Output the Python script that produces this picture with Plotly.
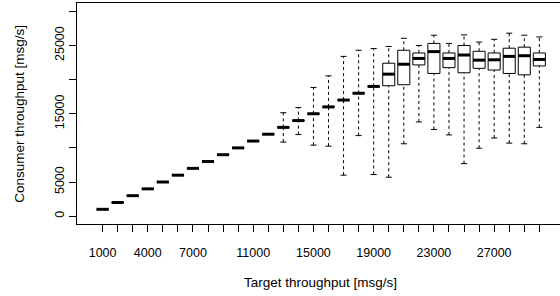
import plotly.graph_objects as go

# ---- data ----
targets = [1000, 2000, 3000, 4000, 5000, 6000, 7000, 8000, 9000, 10000,
           11000, 12000, 13000, 14000, 15000, 16000, 17000, 18000, 19000, 20000,
           21000, 22000, 23000, 24000, 25000, 26000, 27000, 28000, 29000, 30000]
medians = [1000, 2000, 3000, 4000, 5000, 6000, 7000, 8000, 9000, 10000,
           11000, 12000, 13000, 14000, 15000, 16000, 17000, 18000, 19000, 20800,
           22250, 23100, 24100, 23100, 23600, 22850, 22900, 23400, 23500, 22950]
q1 = [1000, 2000, 3000, 4000, 5000, 6000, 7000, 8000, 9000, 10000,
      11000, 12000, 13000, 14000, 15000, 16000, 17000, 18000, 19000, 19100,
      19250, 22150, 20900, 21750, 21000, 21650, 21400, 20900, 20700, 22000]
q3 = [1000, 2000, 3000, 4000, 5000, 6000, 7000, 8000, 9000, 10000,
      11000, 12000, 13000, 14000, 15000, 16000, 17000, 18000, 19000, 22400,
      24300, 23900, 25300, 23900, 25000, 24150, 23900, 24600, 24750, 23900]
upper = [1000, 2000, 3000, 4000, 5000, 6000, 7000, 8000, 9000, 10000,
         11000, 12000, 15150, 15900, 18850, 20550, 23400, 24300, 24550, 24850,
         26050, 25000, 26500, 25300, 26550, 25500, 25900, 26800, 26500, 26250]
lower = [1000, 2000, 3000, 4000, 5000, 6000, 7000, 8000, 9000, 10000,
         11000, 12000, 10850, 11950, 10400, 10250, 6000, 11800, 6100, 5700,
         10600, 13800, 12700, 11900, 7700, 9950, 11450, 10700, 10600, 13000]

x_shown_labels = [1000, 4000, 7000, 11000, 15000, 19000, 23000, 27000]
y_tick_values = [0, 5000, 10000, 15000, 20000, 25000, 30000]
y_shown_labels = [0, 5000, 15000, 25000]

# ---- geometry (in data units) ----
step = 1000
half_box = 0.4 * step
half_staple = 0.2 * step

wx, wy, sx, sy, bx, by, mx, my = [], [], [], [], [], [], [], []
for t, m, a, b, lo, hi in zip(targets, medians, q1, q3, lower, upper):
    if hi > b:
        wx += [t, t, None]; wy += [b, hi, None]
    if lo < a:
        wx += [t, t, None]; wy += [lo, a, None]
    sx += [t - half_staple, t + half_staple, None, t - half_staple, t + half_staple, None]
    sy += [hi, hi, None, lo, lo, None]
    bx += [t - half_box, t + half_box, t + half_box, t - half_box, t - half_box, None]
    by += [a, a, b, b, a, None]
    mx += [t - half_box, t + half_box, None]
    my += [m, m, None]

fig = go.Figure()
fig.add_trace(go.Scatter(x=wx, y=wy, mode="lines",
                         line=dict(color="black", width=1, dash="3px,3px"),
                         hoverinfo="skip"))
fig.add_trace(go.Scatter(x=sx, y=sy, mode="lines",
                         line=dict(color="black", width=1), hoverinfo="skip"))
fig.add_trace(go.Scatter(x=bx, y=by, mode="lines", fill="toself", fillcolor="white",
                         line=dict(color="black", width=1), hoverinfo="skip"))
fig.add_trace(go.Scatter(x=mx, y=my, mode="lines",
                         line=dict(color="black", width=3), hoverinfo="skip"))

font = dict(family="Liberation Sans, Arial, Helvetica, sans-serif", color="black", size=12.5)

fig.update_layout(
    width=560, height=296,
    margin=dict(l=77, r=0, t=3, b=72, pad=0),
    paper_bgcolor="white", plot_bgcolor="white",
    showlegend=False, font=font,
    xaxis=dict(range=[-700, 31372], tickmode="array", tickvals=targets,
               ticktext=[str(t) if t in x_shown_labels else "" for t in targets],
               ticks="outside", ticklen=7, tickcolor="black", tickwidth=1,
               showline=True, linecolor="black", linewidth=1, mirror=True,
               showgrid=False, zeroline=False, tickangle=0,
               ticklabelstandoff=10),
    yaxis=dict(range=[-1150, 31220], tickmode="array", tickvals=y_tick_values,
               ticktext=[str(v) if v in y_shown_labels else "" for v in y_tick_values],
               ticks="outside", ticklen=7, tickcolor="black", tickwidth=1,
               showline=True, linecolor="black", linewidth=1, mirror=False,
               showgrid=False, zeroline=False, tickangle=-90,
               ticklabelstandoff=0),
    annotations=[
        dict(text="Target throughput [msg/s]", xref="x", yref="paper",
             x=15500, y=0, xanchor="center", yanchor="middle", yshift=-58,
             showarrow=False, font=dict(size=13.5)),
        dict(text="Consumer throughput [msg/s]", xref="paper", yref="y",
             x=0, y=15000, xanchor="center", yanchor="middle", xshift=-57,
             textangle=-90, showarrow=False, font=dict(size=13.5)),
    ],
)

fig.write_html("out.html", config=dict(displayModeBar=False, staticPlot=True),
               post_script="document.body.style.margin='0';document.body.style.overflow='hidden';")
